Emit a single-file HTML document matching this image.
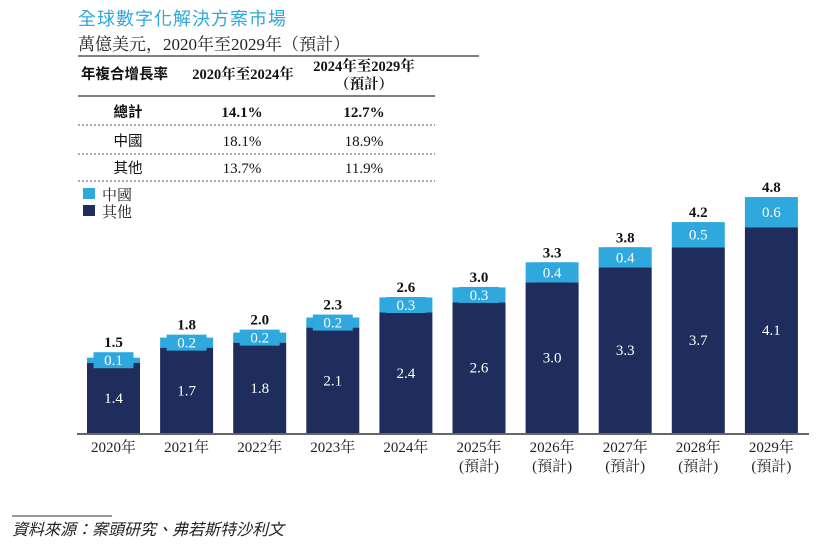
<!DOCTYPE html>
<html><head><meta charset="utf-8"><style>
body{margin:0;background:#fff;}
svg text{font-family:"Liberation Serif","Noto Serif CJK SC",serif;}
</style></head><body>
<svg width="827" height="548" viewBox="0 0 827 548" xmlns="http://www.w3.org/2000/svg">
<text x="78" y="25" font-size="18" fill="#2ea8dd" style="font-family:'Noto Sans CJK TC',sans-serif;letter-spacing:1px">全球數字化解決方案市場</text>
<text x="78" y="50" font-size="17" fill="#222">萬億美元，2020年至2029年（預計）</text>
<line x1="78" y1="56" x2="479" y2="56" stroke="#555" stroke-width="1.5"/>
<g font-size="14.5" fill="#111">
<text x="81" y="79" font-weight="bold" style="font-family:'Noto Sans CJK TC',sans-serif">年複合增長率</text>
<text x="243" y="79" text-anchor="middle" font-weight="bold">2020年至2024年</text>
<text x="364" y="71" text-anchor="middle" font-weight="bold">2024年至2029年</text>
<text x="364" y="89" text-anchor="middle" font-weight="bold">（預計）</text>
<line x1="78" y1="96" x2="435" y2="96" stroke="#333" stroke-width="1.2"/>
<text x="128" y="117" text-anchor="middle" font-weight="bold" style="font-family:'Noto Sans CJK TC',sans-serif">總計</text>
<text x="242" y="117" text-anchor="middle" font-weight="bold" font-size="15">14.1%</text>
<text x="364" y="117" text-anchor="middle" font-weight="bold" font-size="15">12.7%</text>
<line x1="78" y1="125" x2="435" y2="125" stroke="#555" stroke-dasharray="2,2"/>
<text x="128" y="146" text-anchor="middle" style="font-family:'Noto Sans CJK TC',sans-serif">中國</text>
<text x="242" y="146" text-anchor="middle" font-size="15">18.1%</text>
<text x="364" y="146" text-anchor="middle" font-size="15">18.9%</text>
<line x1="78" y1="154" x2="435" y2="154" stroke="#555" stroke-dasharray="2,2"/>
<text x="128" y="173" text-anchor="middle" style="font-family:'Noto Sans CJK TC',sans-serif">其他</text>
<text x="242" y="173" text-anchor="middle" font-size="15">13.7%</text>
<text x="364" y="173" text-anchor="middle" font-size="15">11.9%</text>
<line x1="78" y1="181" x2="435" y2="181" stroke="#555" stroke-dasharray="2,2"/>
</g>
<g font-size="15" style="font-family:'Noto Sans CJK TC',sans-serif">
<rect x="83" y="188" width="12" height="11" fill="#2ea8dd"/>
<text x="102" y="200" fill="#222">中國</text>
<rect x="83" y="205" width="12" height="11" fill="#1e2d5c"/>
<text x="102" y="217" fill="#222">其他</text>
</g>
<g id="bars"></g>
<line x1="77" y1="434" x2="809" y2="434" stroke="#333" stroke-width="1.5"/>
<line x1="12" y1="516" x2="112" y2="516" stroke="#333" stroke-width="1"/>
<text x="12" y="535" font-size="16" fill="#222" font-style="italic" style="font-family:'Noto Sans CJK TC',sans-serif">資料來源：案頭研究、弗若斯特沙利文</text>
</svg>
<script>
const years = ["2020年","2021年","2022年","2023年","2024年","2025年","2026年","2027年","2028年","2029年"];
const forecast = [false,false,false,false,false,true,true,true,true,true];
const otherVals = [1.4,1.7,1.8,2.1,2.4,2.6,3.0,3.3,3.7,4.1];
const chinaVals = [0.1,0.2,0.2,0.2,0.3,0.3,0.4,0.4,0.5,0.6];
const totalLabels = ["1.5","1.8","2.0","2.3","2.6","3.0","3.3","3.8","4.2","4.8"];
const NS="http://www.w3.org/2000/svg";
const g=document.getElementById('bars');
const base=433, unit=50.2, x0=87, pitch=73.1, bw=53;
const yS=v=>base-v*unit;
const xS=i=>x0+i*pitch;
function mk(tag,attrs){const e=document.createElementNS(NS,tag);for(const k in attrs)e.setAttribute(k,attrs[k]);g.appendChild(e);return e;}
years.forEach((yr,i)=>{
  const x=xS(i), cx=x+bw/2;
  const oTop=yS(otherVals[i]);
  const tot=otherVals[i]+chinaVals[i];
  const cTop=yS(tot);
  let r=mk('rect',{x:x,y:oTop,width:bw,height:base-oTop,fill:'#1e2d5c'});
  
  
  r=mk('rect',{x:x,y:cTop,width:bw,height:oTop-cTop,fill:'#2ea8dd'});
  
  
  const cm=(cTop+oTop)/2, h=Math.max(16,oTop-cTop);
  r=mk('rect',{x:cx-20,y:cm-h/2,width:40,height:h,fill:'#2ea8dd'});
  
  
  let t=mk('text',{x:cx,y:cm+5,'text-anchor':'middle','font-size':15,fill:'#fff'});
  t.textContent=chinaVals[i].toFixed(1);
  
  
  t=mk('text',{x:cx,y:(oTop+base)/2+5,'text-anchor':'middle','font-size':15,fill:'#fff'});
  t.textContent=otherVals[i].toFixed(1);
  
  
  t=mk('text',{x:cx,y:Math.min(cTop,cm-h/2)-5,'text-anchor':'middle','font-size':15,'font-weight':'bold',fill:'#111'});
  t.textContent=totalLabels[i];
  
  
  t=mk('text',{x:cx,y:452,'text-anchor':'middle','font-size':15,fill:'#222'});
  t.textContent=yr;
  
  
  if(forecast[i]){
    t=mk('text',{x:cx,y:471,'text-anchor':'middle','font-size':15,fill:'#222'});
    t.textContent='(預計)';
    
    
  }
});
</script>
</body></html>
